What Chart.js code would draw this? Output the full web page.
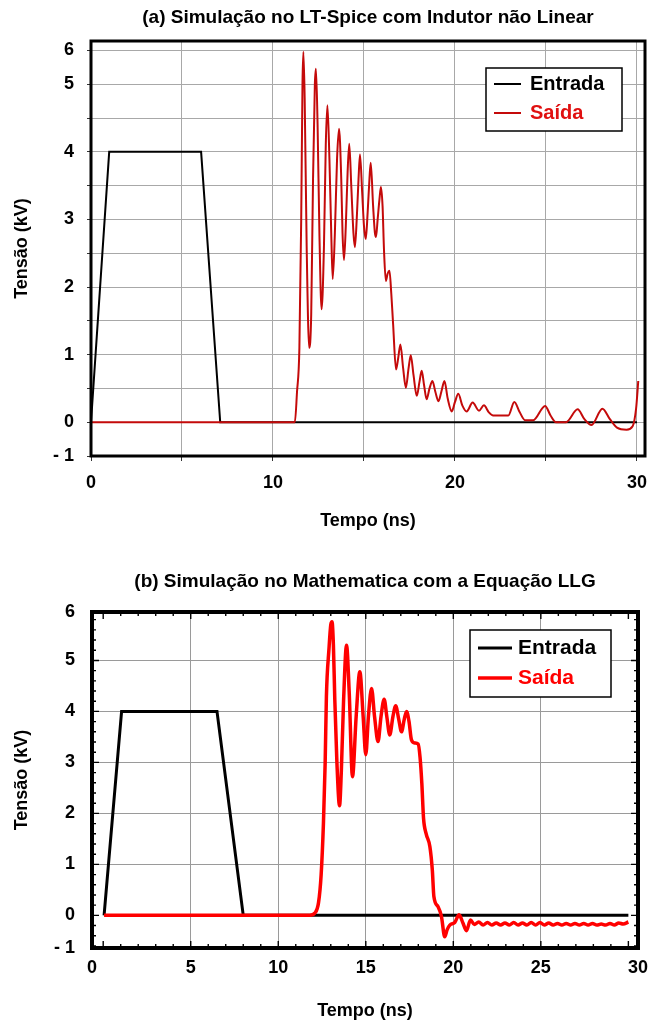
<!DOCTYPE html>
<html lang="pt">
<head>
<meta charset="utf-8">
<title>Simulação LT-Spice e Mathematica</title>
<script src="https://cdn.jsdelivr.net/npm/chart.js@4.4.1/dist/chart.umd.min.js"></script>
<style>
  html, body { margin: 0; padding: 0; background: #fff; }
  #pagina { position: relative; width: 666px; height: 1026px; }
  #graficaA { position: absolute; left: 0; top: 0; }
  #graficaB { position: absolute; left: 0; top: 540px; }
</style>
</head>
<body>
<div id="pagina">
  <canvas id="graficaA" width="666" height="540"></canvas>
  <canvas id="graficaB" width="666" height="486"></canvas>
</div>
<script>
// ---- (a) LT-Spice ----
const tempoEntradaA = [0, 1, 6.05, 7.1, 30];
const tensaoEntradaA = [0, 4, 4, 0, 0];

const tempoSaidaA = [
  0, 11.2, 11.32, 11.45, 11.55, 11.62, 11.67, 11.74, 11.85, 11.99,
  12.1, 12.2, 12.3, 12.36, 12.45, 12.55, 12.67, 12.8, 12.9, 12.99,
  13.1, 13.2, 13.28, 13.4, 13.52, 13.63, 13.75, 13.82, 13.9, 14.0,
  14.1, 14.19, 14.3, 14.42, 14.5, 14.6, 14.7, 14.78, 14.9, 15.0,
  15.1, 15.2, 15.3, 15.37, 15.5, 15.6, 15.66, 15.75, 15.85, 15.93,
  16.02, 16.1, 16.2, 16.3, 16.4, 16.5, 16.6, 16.76, 16.88, 17.0,
  17.15, 17.3, 17.45, 17.57, 17.72, 17.9, 18.05, 18.17, 18.3, 18.44,
  18.6, 18.76, 18.92, 19.09, 19.25, 19.42, 19.6, 19.82, 20.0, 20.18,
  20.4, 20.64, 20.97, 21.32, 21.59, 21.85, 22.1, 22.93, 23.26, 23.55,
  23.85, 24.3, 24.95, 25.25, 25.55, 26.1, 26.74, 27.1, 27.5, 28.1,
  28.5, 28.9, 29.43, 29.76, 29.95, 30.07
];
const tensaoSaidaA = [
  0, 0, 0.45, 1.1, 3.0, 5.0, 5.48, 4.8, 2.6, 1.1,
  1.6, 3.6, 5.0, 5.23, 4.4, 2.8, 1.67, 2.6, 4.1, 4.69,
  3.9, 2.8, 2.12, 2.8, 3.9, 4.34, 3.6, 2.8, 2.4, 2.9,
  3.7, 4.12, 3.5, 2.8, 2.59, 3.0, 3.6, 3.96, 3.4, 2.9,
  2.71, 3.1, 3.6, 3.84, 3.2, 2.8, 2.74, 3.0, 3.3, 3.48,
  3.2, 2.54, 2.09, 2.2, 2.24, 1.9, 1.45, 0.78, 0.95, 1.15,
  0.8, 0.51, 0.8, 0.99, 0.7, 0.39, 0.6, 0.76, 0.55, 0.34,
  0.5, 0.61, 0.45, 0.31, 0.45, 0.61, 0.35, 0.16, 0.3, 0.42,
  0.25, 0.16, 0.29, 0.17, 0.25, 0.15, 0.1, 0.1, 0.3, 0.15,
  0.03, 0.03, 0.24, 0.1, 0.0, 0.0, 0.19, 0.05, -0.04, 0.2,
  0.05, -0.08, -0.11, -0.06, 0.2, 0.61
];

// marcas dos eixos (valor na escala -> texto mostrado)
const xTicksA = [0, 5, 10, 15, 20, 25, 30];
const xTickLabelsA = ["0", "", "10", "", "20", "", "30"];
const yTicksA = [-0.5, 0, 0.5, 1, 1.5, 2, 2.5, 3, 3.5, 4, 4.5, 5, 5.5];
const yTickLabelsA = ["- 1", "0", "", "1", "", "2", "", "3", "", "4", "", "5", "6"];

// ---- (b) Mathematica ----
const tempoEntradaB = [0.05, 1.05, 6.5, 8.0, 30];
const tensaoEntradaB = [0, 4, 4, 0, 0];

const tempoSaidaB = [
  0.05, 11.8, 12.1, 12.3, 12.45, 12.58, 12.68, 12.75, 12.9, 13.0,
  13.07, 13.15, 13.23, 13.35, 13.5, 13.6, 13.73, 13.9, 14.05, 14.24,
  14.45, 14.66, 14.85, 15.0, 15.15, 15.33, 15.5, 15.7, 15.87, 16.05,
  16.2, 16.37, 16.55, 16.71, 16.88, 17.04, 17.2, 17.33, 17.47, 17.61,
  17.8, 17.99, 18.1, 18.2, 18.3, 18.45, 18.66, 18.8, 18.89, 19.13,
  19.32, 19.51, 19.65, 19.8, 20.08, 20.33, 20.55, 20.75, 20.98, 21.2,
  21.45, 21.7, 21.95, 22.2, 22.45, 22.7, 22.95, 23.2, 23.45, 23.7,
  23.95, 24.2, 24.45, 24.7, 24.95, 25.2, 25.45, 25.7, 25.95, 26.2,
  26.45, 26.7, 26.95, 27.2, 27.45, 27.7, 27.95, 28.2, 28.45, 28.7,
  28.95, 29.2, 29.45, 29.7, 30.0
];
const tensaoSaidaB = [
  0, 0, 0.05, 0.25, 0.8, 1.8, 3.0, 4.29, 5.24, 5.7,
  5.76, 5.3, 4.23, 3.0, 2.15, 2.8, 4.2, 5.3, 4.4, 2.72,
  3.9, 4.78, 3.9, 3.15, 3.9, 4.45, 3.9, 3.41, 3.9, 4.24,
  3.9, 3.54, 3.9, 4.11, 3.85, 3.6, 3.85, 4.0, 3.8, 3.44,
  3.38, 3.36, 3.1, 2.6, 1.9, 1.6, 1.35, 0.89, 0.37, 0.17,
  -0.02, -0.42, -0.28, -0.19, -0.14, 0.01, -0.15, -0.3, -0.09, -0.18,
  -0.13, -0.19, -0.14, -0.19, -0.15, -0.19, -0.15, -0.19, -0.14, -0.19,
  -0.15, -0.19, -0.14, -0.19, -0.14, -0.19, -0.15, -0.19, -0.16, -0.19,
  -0.16, -0.19, -0.16, -0.19, -0.16, -0.19, -0.16, -0.19, -0.17, -0.19,
  -0.16, -0.19, -0.15, -0.17, -0.13
];

const xTicksB = [-0.64, 5, 10, 15, 20, 25, 30.55];
const xTickLabelsB = ["0", "5", "10", "15", "20", "25", "30"];
const yTicksB = [-0.64, 0, 1, 2, 3, 4, 5, 5.95];
const yTickLabelsB = ["- 1", "0", "1", "2", "3", "4", "5", "6"];

const FONTE = "'Liberation Sans', Arial, sans-serif";
Chart.defaults.font.family = FONTE;
Chart.defaults.color = "#000";

// junta tempo/tensão em pontos {x, y}
function pontos(ts, vs) {
  return ts.map((t, i) => ({ x: t, y: vs[i] }));
}

// moldura preta + marcas internas (estilo Mathematica)
const moldura = {
  id: "moldura",
  afterDraw(chart, args, opts) {
    const { ctx, chartArea } = chart;
    const { left, top, right, bottom } = chartArea;
    const x = chart.scales.x;
    const y = chart.scales.y;
    ctx.save();
    if (opts.marcasInternas) {
      ctx.strokeStyle = "#000";
      ctx.lineWidth = 1.4;
      ctx.beginPath();
      for (let v = 0; v <= 30; v++) {
        const px = x.getPixelForValue(v);
        const len = v % 5 === 0 ? 7 : 4;
        ctx.moveTo(px, bottom); ctx.lineTo(px, bottom - len);
        ctx.moveTo(px, top); ctx.lineTo(px, top + len);
      }
      for (let i = -3; i <= 29; i++) {
        const py = y.getPixelForValue(i / 5);
        const len = i % 5 === 0 ? 7 : 4;
        ctx.moveTo(left, py); ctx.lineTo(left + len, py);
        ctx.moveTo(right, py); ctx.lineTo(right - len, py);
      }
      ctx.stroke();
    }
    ctx.lineWidth = opts.largura;
    ctx.strokeStyle = "#000";
    ctx.strokeRect(left, top, right - left, bottom - top);
    ctx.restore();
  }
};

// legenda com caixa dentro da área do gráfico
const legendaCaixa = {
  id: "legendaCaixa",
  afterDraw(chart, args, o) {
    const ctx = chart.ctx;
    ctx.save();
    ctx.fillStyle = "#fff";
    ctx.fillRect(o.x, o.y, o.w, o.h);
    ctx.lineWidth = o.borda;
    ctx.strokeStyle = "#000";
    ctx.strokeRect(o.x, o.y, o.w, o.h);
    ctx.font = "bold " + o.tamanho + "px " + FONTE;
    ctx.textBaseline = "middle";
    chart.data.datasets.forEach((ds, i) => {
      const ly = o.y + o.primeira + i * o.passo;
      ctx.strokeStyle = ds.borderColor;
      ctx.lineWidth = ds.borderWidth;
      ctx.beginPath();
      ctx.moveTo(o.x + o.linhaIni, ly);
      ctx.lineTo(o.x + o.linhaFim, ly);
      ctx.stroke();
      ctx.fillStyle = o.cores[i];
      ctx.fillText(ds.label, o.x + o.texto, ly);
    });
    ctx.restore();
  }
};

const fonteEixo = { size: 18, weight: "bold" };

// Gráfico (a)
const graficaA = new Chart(document.getElementById("graficaA").getContext("2d"), {
  type: "line",
  data: {
    datasets: [
      {
        label: "Entrada",
        data: pontos(tempoEntradaA, tensaoEntradaA),
        borderColor: "#000",
        borderWidth: 2,
        pointRadius: 0,
        order: 1,
      },
      {
        label: "Saída",
        data: pontos(tempoSaidaA, tensaoSaidaA),
        borderColor: "#c40a0a",
        borderWidth: 2,
        pointRadius: 0,
        cubicInterpolationMode: "monotone",
        order: 0,
      },
    ],
  },
  options: {
    responsive: false,
    devicePixelRatio: 1,
    animation: false,
    layout: { padding: { left: 0, right: 21, top: 0, bottom: 0 } },
    plugins: {
      legend: { display: false },
      tooltip: { enabled: false },
      title: {
        display: true,
        fullSize: false,
        text: "(a) Simulação no LT-Spice com Indutor não Linear",
        font: { size: 19, weight: "bold" },
        color: "#000",
        padding: { top: 6.6, bottom: 11.6 },
      },
      moldura: { largura: 3, marcasInternas: false },
      legendaCaixa: {
        x: 486, y: 68, w: 136, h: 63, borda: 1.5, tamanho: 20,
        linhaIni: 8, linhaFim: 35, texto: 44, primeira: 16, passo: 29,
        cores: ["#000", "#e01010"],
      },
    },
    scales: {
      x: {
        type: "linear",
        min: 0,
        max: 30.44,
        afterBuildTicks: (s) => { s.ticks = xTicksA.map((v) => ({ value: v })); },
        afterFit: (s) => { s.height = 84; },
        ticks: {
          autoSkip: false,
          maxRotation: 0,
          padding: 11,
          font: fonteEixo,
          callback: (v, i) => xTickLabelsA[i],
        },
        grid: { color: "#a8a8a8", lineWidth: 1, drawTicks: true, tickLength: 5, tickColor: "#333" },
        border: { display: false },
        title: { display: true, text: "Tempo (ns)", font: fonteEixo, padding: { top: 0, bottom: 8.2 } },
      },
      y: {
        type: "linear",
        min: -0.5,
        max: 5.64,
        afterBuildTicks: (s) => { s.ticks = yTicksA.map((v) => ({ value: v })); },
        afterFit: (s) => { s.width = 91; },
        ticks: {
          autoSkip: false,
          padding: 13,
          font: fonteEixo,
          callback: (v, i) => yTickLabelsA[i],
        },
        grid: { color: "#a8a8a8", lineWidth: 1, drawTicks: true, tickLength: 4, tickColor: "#333" },
        border: { display: false },
        title: { display: true, text: "Tensão (kV)", font: fonteEixo, padding: { top: 11.2, bottom: 0 } },
      },
    },
  },
  plugins: [moldura, legendaCaixa],
});

// Gráfico (b)
const graficaB = new Chart(document.getElementById("graficaB").getContext("2d"), {
  type: "line",
  data: {
    datasets: [
      {
        label: "Entrada",
        data: pontos(tempoEntradaB, tensaoEntradaB),
        borderColor: "#000",
        borderWidth: 3,
        pointRadius: 0,
        order: 1,
      },
      {
        label: "Saída",
        data: pontos(tempoSaidaB, tensaoSaidaB),
        borderColor: "#ff0000",
        borderWidth: 3.5,
        pointRadius: 0,
        cubicInterpolationMode: "monotone",
        order: 0,
      },
    ],
  },
  options: {
    responsive: false,
    devicePixelRatio: 1,
    animation: false,
    layout: { padding: { left: 0, right: 28, top: 0, bottom: 0 } },
    plugins: {
      legend: { display: false },
      tooltip: { enabled: false },
      title: {
        display: true,
        fullSize: false,
        text: "(b) Simulação no Mathematica com a Equação LLG",
        font: { size: 19, weight: "bold" },
        color: "#000",
        padding: { top: 30.6, bottom: 18.6 },
      },
      moldura: { largura: 4, marcasInternas: true },
      legendaCaixa: {
        x: 470, y: 90, w: 141, h: 67, borda: 1.5, tamanho: 21,
        linhaIni: 8, linhaFim: 42, texto: 48, primeira: 18, passo: 30,
        cores: ["#000", "#ff0000"],
      },
    },
    scales: {
      x: {
        type: "linear",
        min: -0.64,
        max: 30.55,
        afterBuildTicks: (s) => { s.ticks = xTicksB.map((v) => ({ value: v })); },
        afterFit: (s) => { s.height = 78; },
        ticks: {
          autoSkip: false,
          maxRotation: 0,
          padding: 9,
          font: fonteEixo,
          callback: (v, i) => xTickLabelsB[i],
        },
        grid: {
          color: (c) => (c.index === 0 || c.index === xTicksB.length - 1 ? "rgba(0,0,0,0)" : "#9a9a9a"),
          lineWidth: 1,
          drawTicks: false,
        },
        border: { display: false },
        title: { display: true, text: "Tempo (ns)", font: fonteEixo, padding: { top: 0, bottom: 4.2 } },
      },
      y: {
        type: "linear",
        min: -0.64,
        max: 5.95,
        afterBuildTicks: (s) => { s.ticks = yTicksB.map((v) => ({ value: v })); },
        afterFit: (s) => { s.width = 92; },
        ticks: {
          autoSkip: false,
          padding: 17,
          font: fonteEixo,
          callback: (v, i) => yTickLabelsB[i],
        },
        grid: {
          color: (c) => (c.index <= 1 || c.index === yTicksB.length - 1 ? "rgba(0,0,0,0)" : "#9a9a9a"),
          lineWidth: 1,
          drawTicks: false,
        },
        border: { display: false },
        title: { display: true, text: "Tensão (kV)", font: fonteEixo, padding: { top: 11.2, bottom: 0 } },
      },
    },
  },
  plugins: [moldura, legendaCaixa],
});
</script>
</body>
</html>
